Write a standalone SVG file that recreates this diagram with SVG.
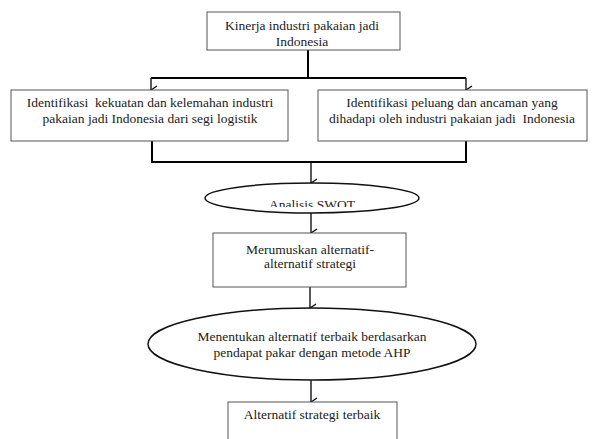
<svg xmlns="http://www.w3.org/2000/svg" width="593" height="439" viewBox="0 0 593 439">
<style>
.box{fill:#fff;stroke:#555;stroke-width:1}
.ell{fill:#fff;stroke:#111;stroke-width:1.5}
.t{font-family:'Liberation Serif','Times New Roman',serif;font-size:13.5px;fill:#222;text-anchor:middle}
.c{fill:none;stroke:#000;stroke-width:2}
.a{fill:none;stroke:#000;stroke-width:1.3}
</style>
<defs>
<marker id="v" viewBox="0 0 10 10" refX="5" refY="9" markerWidth="10" markerHeight="10" markerUnits="userSpaceOnUse" orient="auto-start-reverse">
<path d="M1,3 L5,9 L9,3" fill="none" stroke="#000" stroke-width="1.3"/>
</marker>
<clipPath id="swotclip"><rect x="200" y="180" width="230" height="27"/></clipPath>
</defs>
<g id="connectors">
<path class="c" d="M308,50 V78 M151,78 H466"/>
<path class="a" d="M151,78 V90" marker-end="url(#v)"/>
<path class="a" d="M466,78 V90" marker-end="url(#v)"/>
<path class="c" d="M152,141 V162 H466 V141"/>
<path class="a" d="M311,162 V183" marker-end="url(#v)"/>
<path class="a" d="M311,213 V233" marker-end="url(#v)"/>
<path class="a" d="M310,287 V308" marker-end="url(#v)"/>
<path class="a" d="M311,380 V402" marker-end="url(#v)"/>
</g>
<g id="kinerja" font-family="Liberation Serif, serif">
<rect class="box" x="207" y="12" width="193" height="38"/>
<text class="t" x="302" y="30">Kinerja industri pakaian jadi</text>
<text class="t" x="302" y="46">Indonesia</text>
</g>
<g id="kekuatan" font-family="Liberation Serif, serif">
<rect class="box" x="11" y="90" width="277" height="51"/>
<text class="t" x="150" y="107" xml:space="preserve">Identifikasi  kekuatan dan kelemahan industri</text>
<text class="t" x="150" y="123">pakaian jadi Indonesia dari segi logistik</text>
</g>
<g id="peluang" font-family="Liberation Serif, serif">
<rect class="box" x="318" y="90" width="269" height="51"/>
<text class="t" x="452" y="107">Identifikasi peluang dan ancaman yang</text>
<text class="t" x="452" y="123" xml:space="preserve">dihadapi oleh industri pakaian jadi  Indonesia</text>
</g>
<g id="swot" font-family="Liberation Serif, serif">
<ellipse class="ell" cx="312" cy="198" rx="107" ry="15"/>
<text class="t" x="312" y="209" clip-path="url(#swotclip)">Analisis SWOT</text>
</g>
<g id="merumuskan" font-family="Liberation Serif, serif">
<rect class="box" x="213" y="233" width="193" height="54"/>
<text class="t" x="310" y="254">Merumuskan alternatif-</text>
<text class="t" x="310" y="268">alternatif strategi</text>
</g>
<g id="ahp" font-family="Liberation Serif, serif">
<ellipse class="ell" cx="312" cy="344" rx="164" ry="36"/>
<text class="t" x="312" y="341">Menentukan alternatif terbaik berdasarkan</text>
<text class="t" x="312" y="357">pendapat pakar dengan metode AHP</text>
</g>
<g id="terbaik" font-family="Liberation Serif, serif">
<rect class="box" x="228" y="402" width="169" height="45"/>
<text class="t" x="312" y="419">Alternatif strategi terbaik</text>
</g>
</svg>
